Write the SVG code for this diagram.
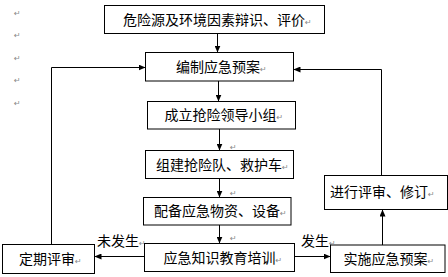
<svg xmlns="http://www.w3.org/2000/svg" width="448" height="277" viewBox="0 0 448 277">
<style>
.box{fill:#fff;stroke:#000;stroke-width:1}
.t{font-family:"Noto Sans CJK SC","Noto Sans",sans-serif;font-size:14px;fill:#000}
.pm{font-family:"DejaVu Sans",sans-serif;font-size:8px;fill:#888}
.c{fill:none;stroke:#000;stroke-width:1}
</style>
<defs>
<marker id="ah" markerWidth="7" markerHeight="6" refX="7" refY="3" orient="auto" markerUnits="userSpaceOnUse">
<path d="M0,0 L7,3 L0,6 z" fill="#000"/>
</marker>
</defs>
<rect width="448" height="277" fill="#fff"/>
<g id="margin-marks">
<text class="pm" x="14" y="16">↵</text>
<text class="pm" x="14" y="38">↵</text>
<text class="pm" x="14" y="61">↵</text>
<text class="pm" x="14" y="83">↵</text>
<text class="pm" x="14" y="106">↵</text>
</g>
<g id="connectors">
<line class="c" x1="217.5" y1="33.5" x2="217.5" y2="52.5" marker-end="url(#ah)"/>
<line class="c" x1="218.5" y1="81" x2="218.5" y2="101.5" marker-end="url(#ah)"/>
<line class="c" x1="219.5" y1="129" x2="219.5" y2="150.5" marker-end="url(#ah)"/>
<line class="c" x1="219.5" y1="178.5" x2="219.5" y2="197.5" marker-end="url(#ah)"/>
<line class="c" x1="219.5" y1="225" x2="219.5" y2="243.5" marker-end="url(#ah)"/>
<line class="c" x1="144.5" y1="256.5" x2="94.5" y2="256.5" marker-end="url(#ah)"/>
<line class="c" x1="294.5" y1="256.5" x2="330.5" y2="256.5" marker-end="url(#ah)"/>
<line class="c" x1="382.5" y1="245" x2="382.5" y2="209.5" marker-end="url(#ah)"/>
<path class="c" d="M381.5 175.5 V69.5 H293.5" marker-end="url(#ah)"/>
<path class="c" d="M51.5 244.5 V67.5 H145.5" marker-end="url(#ah)"/>
<text class="pm" x="230" y="150">↵</text>
<text class="pm" x="230" y="196">↵</text>
<text class="pm" x="230" y="241">↵</text>
<text class="t" x="97" y="246">未发生<tspan class="pm">↵</tspan></text>
<text class="t" x="301" y="246">发生<tspan class="pm">↵</tspan></text>
</g>
<g id="n1"><rect class="box" x="104.5" y="5.5" width="220" height="28"/><text class="t" x="123" y="24.5">危险源及环境因素辩识、评价<tspan class="pm">↵</tspan></text></g>
<g id="n2"><rect class="box" x="145.5" y="52.5" width="148" height="28.5"/><text class="t" x="176" y="72">编制应急预案<tspan class="pm">↵</tspan></text></g>
<g id="n3"><rect class="box" x="147.5" y="101.5" width="148" height="27.5"/><text class="t" x="164.5" y="120">成立抢险领导小组<tspan class="pm">↵</tspan></text></g>
<g id="n4"><rect class="box" x="145.5" y="150.5" width="148" height="28"/><text class="t" x="156" y="169.5">组建抢险队、救护车<tspan class="pm">↵</tspan></text></g>
<g id="n5"><rect class="box" x="143.5" y="197.5" width="147.5" height="27.5"/><text class="t" x="154" y="216">配备应急物资、设备<tspan class="pm">↵</tspan></text></g>
<g id="n6"><rect class="box" x="144.5" y="243.5" width="150" height="28"/><text class="t" x="163.5" y="262.5">应急知识教育培训<tspan class="pm">↵</tspan></text></g>
<g id="n7"><rect class="box" x="2.5" y="244.5" width="92" height="29"/><text class="t" x="19" y="264">定期评审<tspan class="pm">↵</tspan></text></g>
<g id="n8"><rect class="box" x="330.5" y="245" width="114.5" height="27.5"/><text class="t" x="343.5" y="263.5">实施应急预案<tspan class="pm">↵</tspan></text></g>
<g id="n9"><rect class="box" x="324.5" y="175.5" width="123" height="34"/><text class="t" x="330" y="197">进行评审、修订<tspan class="pm">↵</tspan></text></g>
</svg>
